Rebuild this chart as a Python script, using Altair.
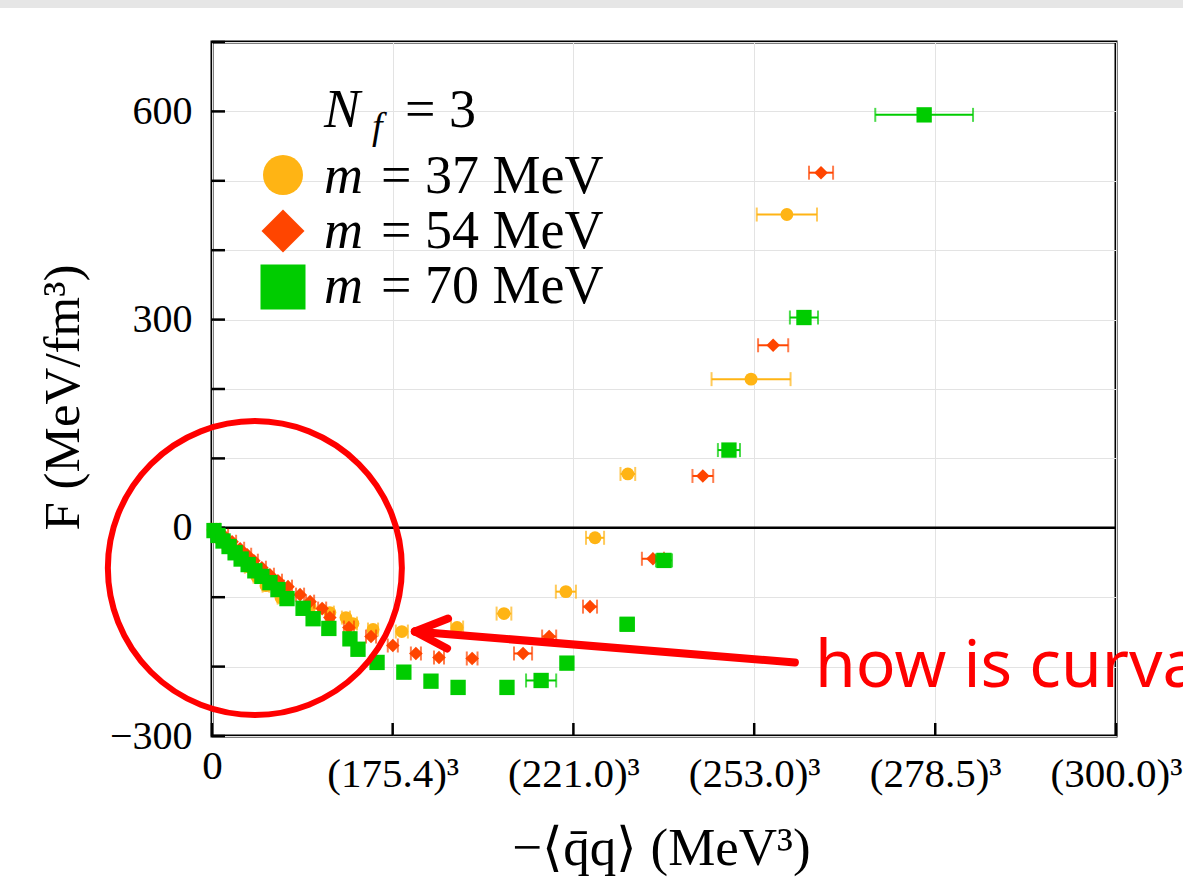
import altair as alt
import pandas as pd

# ---------------- data (x in units of 10^6 MeV^3, y in MeV/fm^3) ----------------
series_names = ["m = 37 MeV", "m = 54 MeV", "m = 70 MeV"]
series_mass = ["37", "54", "70"]
series_colors = ["#FFB414", "#FF4500", "#00CC00"]
series_shapes = ["circle", "diamond", "square"]
series_sizes = [165, 185, 235]

m37_x = [0.03, 0.21, 0.42, 0.63, 0.84, 1.08, 1.34, 1.61, 2.06, 2.93, 3.52, 4.00, 4.21, 4.81,
         5.67, 7.32, 8.72, 10.57, 11.44, 12.42, 16.10, 17.17]
m37_y = [-2.9, -12.9, -23.0, -33.1, -44.6, -56.1, -70.4, -83.4, -100.6, -113.6, -122.2, -129.4,
         -138.0, -146.6, -149.5, -143.7, -123.6, -92.0, -14.4, 77.6, 214.2, 451.4]
m37_e = [0.10, 0.10, 0.10, 0.10, 0.10, 0.10, 0.10, 0.10, 0.10, 0.12, 0.12, 0.12, 0.12, 0.15,
         0.18, 0.18, 0.22, 0.30, 0.27, 0.22, 1.18, 0.90]

m54_x = [0.12, 0.36, 0.60, 0.84, 1.05, 1.25, 1.49, 1.73, 1.97, 2.27, 2.63, 2.93, 3.29, 3.52,
         4.09, 4.75, 5.40, 6.09, 6.78, 7.77, 9.29, 10.07, 11.29, 13.17, 14.66, 16.76, 18.19]
m54_y = [-2.9, -11.5, -20.1, -30.2, -38.8, -47.4, -57.5, -67.6, -76.2, -84.8, -96.3, -106.4,
         -116.4, -129.4, -143.7, -156.7, -169.6, -181.1, -186.9, -188.3, -181.1, -156.7, -113.6,
         -44.6, 74.7, 263.0, 511.7]
m54_e = [0.12, 0.12, 0.12, 0.12, 0.12, 0.12, 0.12, 0.12, 0.12, 0.12, 0.12, 0.12, 0.12, 0.12,
         0.15, 0.15, 0.15, 0.15, 0.15, 0.16, 0.27, 0.21, 0.21, 0.33, 0.31, 0.45, 0.36]

m70_x = [0.06, 0.18, 0.33, 0.51, 0.69, 0.87, 1.08, 1.28, 1.49, 1.73, 1.97, 2.24, 2.72, 3.02,
         3.49, 4.12, 4.36, 4.93, 5.73, 6.54, 7.35, 8.81, 9.83, 10.60, 12.40, 13.50, 15.44,
         17.68, 21.27]
m70_y = [-4, -11, -19, -27, -36, -45, -53, -62, -70, -79, -89, -102, -116, -131, -145, -160,
         -175, -194, -208, -221, -230, -230, -220, -195, -139, -47, 112, 303, 595]
m70_e = [0.10, 0.10, 0.10, 0.10, 0.10, 0.10, 0.10, 0.10, 0.10, 0.10, 0.10, 0.10, 0.12, 0.12,
         0.12, 0.15, 0.15, 0.15, 0.15, 0.15, 0.15, 0.15, 0.45, 0.15, 0.20, 0.24, 0.33, 0.42, 1.46]

x_tick_roots = [0, 175.4, 221.0, 253.0, 278.5, 300.0]
x_tick_labels = ["0", "(175.4)³", "(221.0)³", "(253.0)³", "(278.5)³", "(300.0)³"]
y_tick_vals = [-300, -200, -100, 0, 100, 200, 300, 400, 500, 600, 700]

# annotation (data coordinates)
circle_center = (1.28, -58.0)
arrow_tip = (6.06, -149.5)
arrow_tail = (17.41, -194.1)
arrow_barb1 = (7.05, -130.8)
arrow_barb2 = (7.02, -173.9)
note_pos = (18.01, -230.0)
note_text = "how is curva"

# ---------------- chart ----------------
W, H = 904, 694
x_tick_vals = [r ** 3 / 1e6 for r in x_tick_roots]

expr = "'" + x_tick_labels[-1] + "'"
for i in range(len(x_tick_vals) - 2, -1, -1):
    mid = (x_tick_vals[i] + x_tick_vals[i + 1]) / 2
    expr = f"datum.value < {mid:.3f} ? '{x_tick_labels[i]}' : ({expr})"

SERIF = "Liberation Serif"

x_axis = alt.Axis(
    values=x_tick_vals, labelExpr=expr, grid=True, gridColor="#e3e3e3", gridWidth=1,
    ticks=False, tickSize=0, domain=False, labelFont=SERIF, labelFontSize=41,
    labelColor="black", labelBaseline="top", labelAlign="center", labelFlush=False,
    labelOverlap=False,
    labelPadding={"condition": {"test": "datum.value == 0", "value": 10}, "value": 18},
    title="−⟨q̄q⟩ (MeV³)", titleFont=SERIF, titleFontSize=53, titleFontWeight="normal",
    titleColor="black", titleX=449, titleY=128, titleBaseline="alphabetic",
    titleAlign="center",
)
y_axis = alt.Axis(
    values=y_tick_vals, labelExpr="datum.value % 300 == 0 ? datum.label : ''",
    grid=True, gridColor="#e3e3e3", gridWidth=1, ticks=False, tickSize=0, domain=False,
    labelFont=SERIF, labelFontSize=40, labelColor="black", labelPadding=20,
    labelBaseline="middle", labelOverlap=False, labelFlush=False,
    title="F (MeV/fm³)", titleFont=SERIF, titleFontSize=51, titleFontWeight="normal",
    titleColor="black", titleAngle=270, titleX=-134, titleY=H / 2 + 8,
    titleBaseline="alphabetic", titleAlign="center",
)
x_scale = alt.Scale(domain=[0, 27], nice=False, zero=False)
y_scale = alt.Scale(domain=[-300, 700], nice=False, zero=False)


def xe(field):
    return alt.X(f"{field}:Q", scale=x_scale, axis=x_axis)


def ye(field):
    return alt.Y(f"{field}:Q", scale=y_scale, axis=y_axis)


layers = []

# gray strip at the very top of the page
layers.append(
    alt.Chart(pd.DataFrame({"a": [0]})).mark_rect(color="#e6e6e6").encode(
        x=alt.value(-212), x2=alt.value(971), y=alt.value(-42), y2=alt.value(-34)
    )
)

# zero line
layers.append(
    alt.Chart(pd.DataFrame({"y": [0]})).mark_rule(color="black", strokeWidth=2.5).encode(y=ye("y"))
)
# inward ticks
layers.append(
    alt.Chart(pd.DataFrame({"y": y_tick_vals})).mark_rule(color="black", strokeWidth=2.5).encode(
        y=ye("y"), x=alt.value(0), x2=alt.value(13)
    )
)
layers.append(
    alt.Chart(pd.DataFrame({"x": x_tick_vals})).mark_rule(color="black", strokeWidth=2.5).encode(
        x=xe("x"), y=alt.value(H), y2=alt.value(H - 13)
    )
)

all_x = [m37_x, m54_x, m70_x]
all_y = [m37_y, m54_y, m70_y]
all_e = [m37_e, m54_e, m70_e]

for name, col, shp, sz, xs, ys, es in zip(series_names, series_colors, series_shapes,
                                          series_sizes, all_x, all_y, all_e):
    df = pd.DataFrame({
        "x": xs, "y": ys,
        "lo": [a - b for a, b in zip(xs, es)],
        "hi": [a + b for a, b in zip(xs, es)],
    })
    base = alt.Chart(df)
    layers.append(base.mark_rule(color=col, strokeWidth=2).encode(x=xe("lo"), x2="hi:Q", y=ye("y")))
    layers.append(base.mark_tick(color=col, orient="vertical", size=14, thickness=2).encode(x=xe("lo"), y=ye("y")))
    layers.append(base.mark_tick(color=col, orient="vertical", size=14, thickness=2).encode(x=xe("hi"), y=ye("y")))
    layers.append(base.mark_point(shape=shp, size=sz, filled=True, opacity=1, color=col, strokeWidth=0).encode(
        x=xe("x"), y=ye("y")))

# annotation: circle, arrow, note
RED = "#FF0000"
layers.append(
    alt.Chart(pd.DataFrame({"x": [circle_center[0]], "y": [circle_center[1]]})).mark_point(
        shape="circle", size=294 * 294, filled=False, opacity=1, color=RED, strokeWidth=6
    ).encode(x=xe("x"), y=ye("y"))
)
arrow_df = pd.DataFrame({
    "x": [arrow_tip[0]] * 3,
    "y": [arrow_tip[1]] * 3,
    "x2": [arrow_tail[0], arrow_barb1[0], arrow_barb2[0]],
    "y2": [arrow_tail[1], arrow_barb1[1], arrow_barb2[1]],
})
layers.append(
    alt.Chart(arrow_df).mark_rule(color=RED, strokeWidth=8, strokeCap="round").encode(
        x=xe("x"), x2="x2:Q", y=ye("y"), y2="y2:Q"
    )
)
layers.append(
    alt.Chart(pd.DataFrame({"x": [note_pos[0]], "y": [note_pos[1]]})).mark_text(
        text=note_text, font="Noto Sans", fontSize=66, color=RED, align="left", baseline="alphabetic"
    ).encode(x=xe("x"), y=ye("y"))
)

# legend (inside the plot, top-left)
one = pd.DataFrame({"a": [0]})
leg_sym_y = [133, 189, 245]
leg_sym_size = [1600, 1849, 2025]
leg_base_y = [151, 206, 261]
for mass, col, shp, sy, ss, by in zip(series_mass, series_colors, series_shapes,
                                      leg_sym_y, leg_sym_size, leg_base_y):
    layers.append(alt.Chart(one).mark_point(shape=shp, size=ss, filled=True, opacity=1, color=col,
                                            strokeWidth=0).encode(x=alt.value(71), y=alt.value(sy)))
    layers.append(alt.Chart(one).mark_text(text="m", font=SERIF, fontStyle="italic", fontSize=54,
                                           align="left", baseline="alphabetic", color="black").encode(
        x=alt.value(112), y=alt.value(by)))
    layers.append(alt.Chart(one).mark_text(text=f"= {mass} MeV", font=SERIF, fontSize=54,
                                           align="left", baseline="alphabetic", color="black").encode(
        x=alt.value(169), y=alt.value(by)))
layers.append(alt.Chart(one).mark_text(text="N", font=SERIF, fontStyle="italic", fontSize=54,
                                       align="left", baseline="alphabetic", color="black").encode(
    x=alt.value(112), y=alt.value(85)))
layers.append(alt.Chart(one).mark_text(text="f", font=SERIF, fontStyle="italic", fontSize=38,
                                       align="left", baseline="alphabetic", color="black").encode(
    x=alt.value(160), y=alt.value(97)))
layers.append(alt.Chart(one).mark_text(text="= 3", font=SERIF, fontSize=54,
                                       align="left", baseline="alphabetic", color="black").encode(
    x=alt.value(193), y=alt.value(85)))

chart = alt.layer(*layers).properties(
    width=W, height=H,
    padding={"left": 212, "top": 42, "right": 67, "bottom": 152},
    autosize=alt.AutoSizeParams(type="none"),
    background="white",
).configure_view(stroke="black", strokeWidth=3)

chart.save("out.html", embed_options={"renderer": "svg", "actions": False})
